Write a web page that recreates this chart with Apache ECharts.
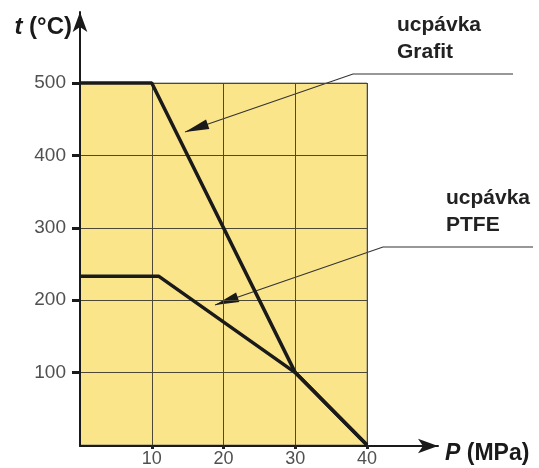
<!DOCTYPE html>
<html><head><meta charset="utf-8">
<script src="https://cdn.jsdelivr.net/npm/echarts@6/dist/echarts.min.js"></script>
<style>html,body{margin:0;padding:0;background:#fff}#c{width:539px;height:468px}</style>
</head><body><div id="c"></div>
<script>
const xTicks = [10, 20, 30, 40];
const yTicks = [100, 200, 300, 400, 500];
const grafitP = [0, 10, 30, 40];
const grafitT = [500, 500, 100, 0];
const ptfeP = [0, 11, 30, 40];
const ptfeT = [233, 233, 100, 0];
const labelGrafit = ['ucpávka', 'Grafit'];
const labelPtfe = ['ucpávka', 'PTFE'];
const xName = 'P';
const xUnit = ' (MPa)';
const yName = 't';
const yUnit = ' (°C)';

const chart = echarts.init(document.getElementById('c'));
const font = 'Liberation Sans, Arial, sans-serif';
function arrowHead(tip, from, len, hw) {
  const dx = tip[0]-from[0], dy = tip[1]-from[1];
  const L = Math.sqrt(dx*dx+dy*dy), ux = dx/L, uy = dy/L;
  const bx = tip[0]-ux*len, by = tip[1]-uy*len;
  return [tip, [bx - uy*hw, by + ux*hw], [bx + uy*hw, by - ux*hw]];
}
const gA = [[513,74],[353,74],[185,132]];
const pA = [[533,247],[383,247],[215,305]];
chart.setOption({
  animation: false,
  grid: [
    {left: 80, top: 83, width: 287, height: 363, show: true, backgroundColor: '#fbe58b', borderColor: '#8a8a80', borderWidth: 1},
    {left: 80, top: 12, width: 358, height: 434}
  ],
  xAxis: [
    {gridIndex: 0, type: 'value', min: 0, max: 40, interval: 10,
     axisLine: {show: false},
     axisTick: {show: true, length: 4, customValues: xTicks, lineStyle: {color: '#222', width: 3}},
     axisLabel: {margin: 5, color: '#505050', fontSize: 18, fontFamily: font, customValues: xTicks},
     splitLine: {show: true, lineStyle: {color: '#4d4836', width: 1}}},
    {gridIndex: 1, type: 'value', min: 0, max: 1, axisLabel: {show: false}, axisTick: {show: false}, splitLine: {show: false},
     axisLine: {show: true, symbol: ['none', 'arrow'], symbolSize: [11, 20], lineStyle: {color: '#1a1a1a', width: 2}}}
  ],
  yAxis: [
    {gridIndex: 0, type: 'value', min: 0, max: 500, interval: 100,
     axisLine: {show: false},
     axisTick: {show: true, length: 8, customValues: yTicks, lineStyle: {color: '#1a1a1a', width: 3}},
     axisLabel: {margin: 14, color: '#505050', fontSize: 19, fontFamily: font, customValues: yTicks},
     splitLine: {show: true, lineStyle: {color: '#4d4836', width: 1}}},
    {gridIndex: 1, type: 'value', min: 0, max: 1, axisLabel: {show: false}, axisTick: {show: false}, splitLine: {show: false},
     axisLine: {show: true, symbol: ['none', 'arrow'], symbolSize: [11, 20], lineStyle: {color: '#1a1a1a', width: 2}}}
  ],
  series: [
    {type: 'line', xAxisIndex: 0, yAxisIndex: 0, clip: false, symbol: 'none',
     data: grafitP.map((p, i) => [p, grafitT[i]]), lineStyle: {color: '#1a1a1a', width: 3.5}},
    {type: 'line', xAxisIndex: 0, yAxisIndex: 0, clip: false, symbol: 'none',
     data: ptfeP.map((p, i) => [p, ptfeT[i]]), lineStyle: {color: '#1a1a1a', width: 3.5}}
  ],
  graphic: [
    {type: 'text', right: 539-72, top: 15, style: {text: '{i|' + yName + '}' + yUnit, font: 'bold 24px ' + font, fill: '#1a1a1a', align: 'right',
      rich: {i: {fontStyle: 'italic', fontWeight: 'bold', fontSize: 24, fontFamily: font}}}},
    {type: 'text', left: 445, top: 442, style: {text: '{i|' + xName + '}' + xUnit, font: 'bold 23px ' + font, fill: '#1a1a1a',
      rich: {i: {fontStyle: 'italic', fontWeight: 'bold', fontSize: 23, fontFamily: font}}}},
    {type: 'text', left: 397, top: 12, style: {text: labelGrafit.join('\n'), font: 'bold 21px ' + font, fill: '#222', lineHeight: 27}},
    {type: 'text', left: 446, top: 185, style: {text: labelPtfe.join('\n'), font: 'bold 21px ' + font, fill: '#222', lineHeight: 27}},
    {type: 'polyline', shape: {points: gA}, style: {stroke: '#333', lineWidth: 1.2, fill: null}},
    {type: 'polygon', shape: {points: arrowHead(gA[2], gA[1], 24, 5)}, style: {fill: '#1a1a1a'}},
    {type: 'polyline', shape: {points: pA}, style: {stroke: '#333', lineWidth: 1.2, fill: null}},
    {type: 'polygon', shape: {points: arrowHead(pA[2], pA[1], 24, 5)}, style: {fill: '#1a1a1a'}}
  ]
});
</script></body></html>
